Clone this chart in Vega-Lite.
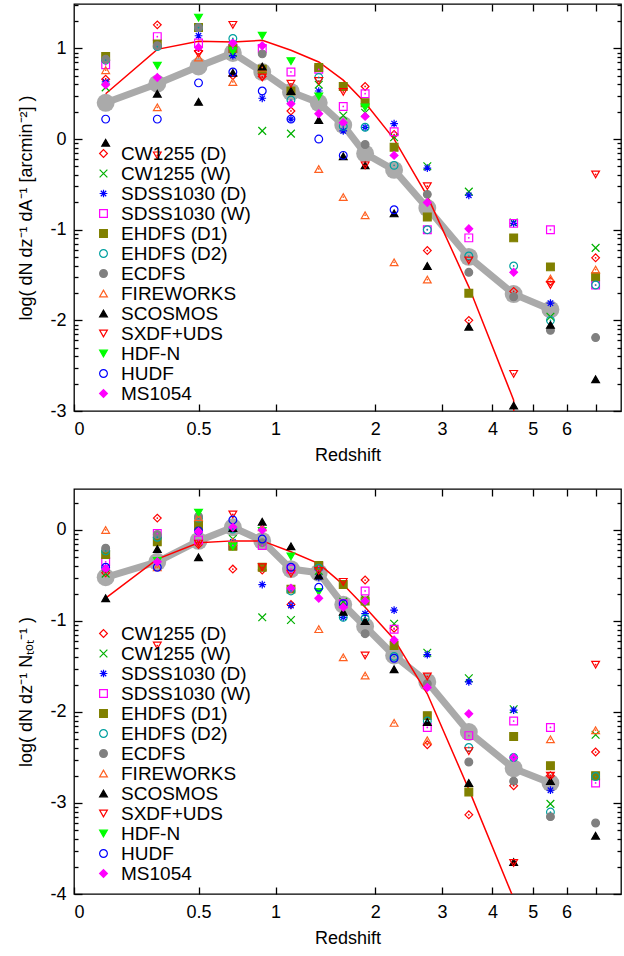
{
"$schema": "https://vega.github.io/schema/vega-lite/v6.json",
"padding": {"left": 17, "top": 2, "right": 1, "bottom": 0},
"config": {"font": "Liberation Sans", "view": {"stroke": "#000000", "strokeWidth": 1.3},
  "axis": {"labelFont": "Liberation Sans", "labelFontSize": 18, "titleFont": "Liberation Sans", "titleFontSize": 18, "titleFontWeight": "normal", "labelColor": "#000000", "titleColor": "#000000", "tickColor": "#000000", "domain": false, "grid": false, "tickWidth": 1.3},
  "legend": {"orient": "none", "title": null, "labelFontSize": 19, "labelFont": "Liberation Sans", "symbolStrokeWidth": 1.2, "symbolSize": 60, "rowPadding": -0.3, "padding": 0, "labelOffset": 8}},
"datasets": {
"at": [{"z":0.1,"v":0.40},{"z":0.3,"v":0.61},{"z":0.5,"v":0.80},{"z":0.7,"v":0.95},{"z":0.9,"v":0.74},{"z":1.125,"v":0.52},{"z":1.375,"v":0.40},{"z":1.625,"v":0.155},{"z":1.875,"v":-0.16},{"z":2.25,"v":-0.34},{"z":2.75,"v":-0.76},{"z":3.5,"v":-1.30},{"z":4.5,"v":-1.71},{"z":5.5,"v":-1.88}],
"mt": [{"z":0.1,"v":0.50},{"z":0.3,"v":0.99},{"z":0.5,"v":1.08},{"z":0.7,"v":1.07},{"z":0.9,"v":1.09},{"z":1.125,"v":0.98},{"z":1.375,"v":0.85},{"z":1.625,"v":0.65},{"z":1.875,"v":0.40},{"z":2.25,"v":0.0},{"z":2.75,"v":-0.63},{"z":3.5,"v":-1.63},{"z":4.5,"v":-2.88},{"z":5.5,"v":-40}],
"ab": [{"z":0.1,"v":-0.52},{"z":0.3,"v":-0.35},{"z":0.5,"v":-0.12},{"z":0.7,"v":0.03},{"z":0.9,"v":-0.12},{"z":1.125,"v":-0.43},{"z":1.375,"v":-0.47},{"z":1.625,"v":-0.82},{"z":1.875,"v":-1.06},{"z":2.25,"v":-1.38},{"z":2.75,"v":-1.67},{"z":3.5,"v":-2.22},{"z":4.5,"v":-2.62},{"z":5.5,"v":-2.78}],
"mb": [{"z":0.1,"v":-0.75},{"z":0.3,"v":-0.32},{"z":0.5,"v":-0.14},{"z":0.7,"v":-0.12},{"z":0.9,"v":-0.12},{"z":1.125,"v":-0.24},{"z":1.375,"v":-0.37},{"z":1.625,"v":-0.6},{"z":1.875,"v":-0.85},{"z":2.25,"v":-1.2},{"z":2.75,"v":-1.8},{"z":3.5,"v":-2.85},{"z":4.5,"v":-4.05},{"z":5.5,"v":-40}],
"pt": [
{"s":"CW1255 (D)","z":0.1,"v":0.66},{"s":"CW1255 (D)","z":0.3,"v":1.26},{"s":"CW1255 (D)","z":0.5,"v":0.97},{"s":"CW1255 (D)","z":0.7,"v":0.70},{"s":"CW1255 (D)","z":0.9,"v":0.69},{"s":"CW1255 (D)","z":1.125,"v":0.31},{"s":"CW1255 (D)","z":1.875,"v":0.58},{"s":"CW1255 (D)","z":2.25,"v":0.05},{"s":"CW1255 (D)","z":2.75,"v":-1.23},{"s":"CW1255 (D)","z":3.5,"v":-2.0},{"s":"CW1255 (D)","z":4.5,"v":-1.68},{"s":"CW1255 (D)","z":5.5,"v":-1.57},{"s":"CW1255 (D)","z":7,"v":-1.31},
{"s":"CW1255 (W)","z":0.1,"v":0.57},{"s":"CW1255 (W)","z":0.7,"v":0.95},{"s":"CW1255 (W)","z":0.9,"v":0.09},{"s":"CW1255 (W)","z":1.125,"v":0.06},{"s":"CW1255 (W)","z":1.375,"v":0.60},{"s":"CW1255 (W)","z":1.625,"v":0.26},{"s":"CW1255 (W)","z":1.875,"v":0.29},{"s":"CW1255 (W)","z":2.25,"v":0.02},{"s":"CW1255 (W)","z":2.75,"v":-0.30},{"s":"CW1255 (W)","z":3.5,"v":-0.58},{"s":"CW1255 (W)","z":4.5,"v":-0.92},{"s":"CW1255 (W)","z":5.5,"v":-1.96},{"s":"CW1255 (W)","z":7,"v":-1.20},
{"s":"SDSS1030 (D)","z":0.1,"v":0.63},{"s":"SDSS1030 (D)","z":0.5,"v":1.14},{"s":"SDSS1030 (D)","z":0.7,"v":0.92},{"s":"SDSS1030 (D)","z":0.9,"v":0.45},{"s":"SDSS1030 (D)","z":1.125,"v":0.22},{"s":"SDSS1030 (D)","z":1.375,"v":0.53},{"s":"SDSS1030 (D)","z":1.625,"v":0.09},{"s":"SDSS1030 (D)","z":1.875,"v":0.13},{"s":"SDSS1030 (D)","z":2.25,"v":0.17},{"s":"SDSS1030 (D)","z":2.75,"v":-0.32},{"s":"SDSS1030 (D)","z":3.5,"v":-0.62},{"s":"SDSS1030 (D)","z":4.5,"v":-0.93},{"s":"SDSS1030 (D)","z":5.5,"v":-1.81},
{"s":"SDSS1030 (W)","z":0.1,"v":0.82},{"s":"SDSS1030 (W)","z":0.3,"v":1.13},{"s":"SDSS1030 (W)","z":0.5,"v":1.06},{"s":"SDSS1030 (W)","z":0.7,"v":1.0},{"s":"SDSS1030 (W)","z":0.9,"v":1.0},{"s":"SDSS1030 (W)","z":1.125,"v":0.74},{"s":"SDSS1030 (W)","z":1.375,"v":0.77},{"s":"SDSS1030 (W)","z":1.625,"v":0.36},{"s":"SDSS1030 (W)","z":1.875,"v":0.50},{"s":"SDSS1030 (W)","z":2.25,"v":0.08},{"s":"SDSS1030 (W)","z":2.75,"v":-1.0},{"s":"SDSS1030 (W)","z":3.5,"v":-1.09},{"s":"SDSS1030 (W)","z":4.5,"v":-0.93},{"s":"SDSS1030 (W)","z":5.5,"v":-1.0},{"s":"SDSS1030 (W)","z":7,"v":-1.61},
{"s":"EHDFS (D1)","z":0.1,"v":0.91},{"s":"EHDFS (D1)","z":0.3,"v":1.05},{"s":"EHDFS (D1)","z":0.5,"v":1.23},{"s":"EHDFS (D1)","z":0.7,"v":1.0},{"s":"EHDFS (D1)","z":0.9,"v":0.77},{"s":"EHDFS (D1)","z":1.125,"v":0.53},{"s":"EHDFS (D1)","z":1.375,"v":0.79},{"s":"EHDFS (D1)","z":1.625,"v":0.58},{"s":"EHDFS (D1)","z":1.875,"v":0.40},{"s":"EHDFS (D1)","z":2.25,"v":-0.09},{"s":"EHDFS (D1)","z":2.75,"v":-0.86},{"s":"EHDFS (D1)","z":3.5,"v":-1.70},{"s":"EHDFS (D1)","z":4.5,"v":-1.09},{"s":"EHDFS (D1)","z":5.5,"v":-1.41},{"s":"EHDFS (D1)","z":7,"v":-1.52},
{"s":"EHDFS (D2)","z":0.1,"v":0.87},{"s":"EHDFS (D2)","z":0.3,"v":1.02},{"s":"EHDFS (D2)","z":0.5,"v":1.23},{"s":"EHDFS (D2)","z":0.7,"v":1.11},{"s":"EHDFS (D2)","z":1.125,"v":0.43},{"s":"EHDFS (D2)","z":1.375,"v":0.68},{"s":"EHDFS (D2)","z":1.625,"v":0.14},{"s":"EHDFS (D2)","z":1.875,"v":0.13},{"s":"EHDFS (D2)","z":2.25,"v":-0.29},{"s":"EHDFS (D2)","z":2.75,"v":-1.0},{"s":"EHDFS (D2)","z":3.5,"v":-1.29},{"s":"EHDFS (D2)","z":4.5,"v":-1.40},{"s":"EHDFS (D2)","z":5.5,"v":-2.0},{"s":"EHDFS (D2)","z":7,"v":-1.61},
{"s":"ECDFS","z":0.1,"v":0.88},{"s":"ECDFS","z":0.3,"v":1.03},{"s":"ECDFS","z":0.5,"v":1.23},{"s":"ECDFS","z":0.9,"v":0.94},{"s":"ECDFS","z":1.875,"v":-0.06},{"s":"ECDFS","z":2.75,"v":-0.61},{"s":"ECDFS","z":3.5,"v":-1.47},{"s":"ECDFS","z":4.5,"v":-1.74},{"s":"ECDFS","z":5.5,"v":-2.11},{"s":"ECDFS","z":7,"v":-2.19},
{"s":"FIREWORKS","z":0.1,"v":0.76},{"s":"FIREWORKS","z":0.3,"v":0.35},{"s":"FIREWORKS","z":0.5,"v":0.90},{"s":"FIREWORKS","z":0.7,"v":0.63},{"s":"FIREWORKS","z":0.9,"v":0.79},{"s":"FIREWORKS","z":1.375,"v":-0.33},{"s":"FIREWORKS","z":1.625,"v":-0.64},{"s":"FIREWORKS","z":1.875,"v":-0.84},{"s":"FIREWORKS","z":2.25,"v":-1.36},{"s":"FIREWORKS","z":2.75,"v":-1.55},{"s":"FIREWORKS","z":5.5,"v":-1.54},{"s":"FIREWORKS","z":7,"v":-1.44},
{"s":"SCOSMOS","z":0.1,"v":-0.04},{"s":"SCOSMOS","z":0.3,"v":0.50},{"s":"SCOSMOS","z":0.5,"v":0.41},{"s":"SCOSMOS","z":0.7,"v":0.73},{"s":"SCOSMOS","z":0.9,"v":0.80},{"s":"SCOSMOS","z":1.125,"v":0.53},{"s":"SCOSMOS","z":1.375,"v":0.21},{"s":"SCOSMOS","z":1.625,"v":-0.19},{"s":"SCOSMOS","z":1.875,"v":-0.29},{"s":"SCOSMOS","z":2.25,"v":-0.82},{"s":"SCOSMOS","z":2.75,"v":-1.40},{"s":"SCOSMOS","z":3.5,"v":-2.07},{"s":"SCOSMOS","z":4.5,"v":-2.94},{"s":"SCOSMOS","z":5.5,"v":-2.05},{"s":"SCOSMOS","z":7,"v":-2.65},
{"s":"SXDF+UDS","z":0.3,"v":-0.18},{"s":"SXDF+UDS","z":0.5,"v":0.94},{"s":"SXDF+UDS","z":0.7,"v":1.26},{"s":"SXDF+UDS","z":0.9,"v":0.68},{"s":"SXDF+UDS","z":1.125,"v":0.61},{"s":"SXDF+UDS","z":1.375,"v":0.64},{"s":"SXDF+UDS","z":1.625,"v":0.52},{"s":"SXDF+UDS","z":1.875,"v":-0.29},{"s":"SXDF+UDS","z":2.75,"v":-0.52},{"s":"SXDF+UDS","z":3.5,"v":-1.34},{"s":"SXDF+UDS","z":4.5,"v":-2.59},{"s":"SXDF+UDS","z":5.5,"v":-1.61},{"s":"SXDF+UDS","z":7,"v":-0.39},
{"s":"HDF-N","z":0.3,"v":0.81},{"s":"HDF-N","z":0.5,"v":1.34},{"s":"HDF-N","z":0.7,"v":0.97},{"s":"HDF-N","z":0.9,"v":1.14},{"s":"HDF-N","z":1.125,"v":0.86},{"s":"HDF-N","z":1.375,"v":0.47},{"s":"HDF-N","z":1.875,"v":0.35},
{"s":"HUDF","z":0.1,"v":0.22},{"s":"HUDF","z":0.3,"v":0.22},{"s":"HUDF","z":0.5,"v":0.62},{"s":"HUDF","z":0.7,"v":0.74},{"s":"HUDF","z":0.9,"v":0.53},{"s":"HUDF","z":1.125,"v":0.22},{"s":"HUDF","z":1.375,"v":0.0},{"s":"HUDF","z":1.625,"v":-0.18},{"s":"HUDF","z":2.25,"v":-0.78},
{"s":"MS1054","z":0.1,"v":0.60},{"s":"MS1054","z":0.3,"v":0.68},{"s":"MS1054","z":0.5,"v":1.01},{"s":"MS1054","z":0.7,"v":1.06},{"s":"MS1054","z":0.9,"v":1.03},{"s":"MS1054","z":1.125,"v":0.39},{"s":"MS1054","z":1.375,"v":0.28},{"s":"MS1054","z":1.625,"v":0.18},{"s":"MS1054","z":1.875,"v":0.25},{"s":"MS1054","z":2.25,"v":-0.18},{"s":"MS1054","z":2.75,"v":-0.70},{"s":"MS1054","z":3.5,"v":-0.99},{"s":"MS1054","z":4.5,"v":-1.47}
],
"pb": [
{"s":"CW1255 (D)","z":0.1,"v":-0.47},{"s":"CW1255 (D)","z":0.3,"v":0.13},{"s":"CW1255 (D)","z":0.5,"v":-0.16},{"s":"CW1255 (D)","z":0.7,"v":-0.43},{"s":"CW1255 (D)","z":0.9,"v":-0.44},{"s":"CW1255 (D)","z":1.125,"v":-0.82},{"s":"CW1255 (D)","z":1.875,"v":-0.55},{"s":"CW1255 (D)","z":2.25,"v":-1.08},{"s":"CW1255 (D)","z":2.75,"v":-2.36},{"s":"CW1255 (D)","z":3.5,"v":-3.13},{"s":"CW1255 (D)","z":4.5,"v":-2.81},{"s":"CW1255 (D)","z":5.5,"v":-2.70},{"s":"CW1255 (D)","z":7,"v":-2.44},
{"s":"CW1255 (W)","z":0.1,"v":-0.48},{"s":"CW1255 (W)","z":0.7,"v":-0.10},{"s":"CW1255 (W)","z":0.9,"v":-0.96},{"s":"CW1255 (W)","z":1.125,"v":-0.99},{"s":"CW1255 (W)","z":1.375,"v":-0.45},{"s":"CW1255 (W)","z":1.625,"v":-0.79},{"s":"CW1255 (W)","z":1.875,"v":-0.76},{"s":"CW1255 (W)","z":2.25,"v":-1.03},{"s":"CW1255 (W)","z":2.75,"v":-1.35},{"s":"CW1255 (W)","z":3.5,"v":-1.63},{"s":"CW1255 (W)","z":4.5,"v":-1.97},{"s":"CW1255 (W)","z":5.5,"v":-3.01},{"s":"CW1255 (W)","z":7,"v":-2.25},
{"s":"SDSS1030 (D)","z":0.1,"v":-0.42},{"s":"SDSS1030 (D)","z":0.5,"v":0.09},{"s":"SDSS1030 (D)","z":0.7,"v":-0.13},{"s":"SDSS1030 (D)","z":0.9,"v":-0.60},{"s":"SDSS1030 (D)","z":1.125,"v":-0.83},{"s":"SDSS1030 (D)","z":1.375,"v":-0.52},{"s":"SDSS1030 (D)","z":1.625,"v":-0.96},{"s":"SDSS1030 (D)","z":1.875,"v":-0.92},{"s":"SDSS1030 (D)","z":2.25,"v":-0.88},{"s":"SDSS1030 (D)","z":2.75,"v":-1.37},{"s":"SDSS1030 (D)","z":3.5,"v":-1.67},{"s":"SDSS1030 (D)","z":4.5,"v":-1.98},{"s":"SDSS1030 (D)","z":5.5,"v":-2.86},
{"s":"SDSS1030 (W)","z":0.1,"v":-0.35},{"s":"SDSS1030 (W)","z":0.3,"v":-0.04},{"s":"SDSS1030 (W)","z":0.5,"v":-0.11},{"s":"SDSS1030 (W)","z":0.7,"v":-0.17},{"s":"SDSS1030 (W)","z":0.9,"v":-0.17},{"s":"SDSS1030 (W)","z":1.125,"v":-0.43},{"s":"SDSS1030 (W)","z":1.375,"v":-0.40},{"s":"SDSS1030 (W)","z":1.625,"v":-0.81},{"s":"SDSS1030 (W)","z":1.875,"v":-0.67},{"s":"SDSS1030 (W)","z":2.25,"v":-1.09},{"s":"SDSS1030 (W)","z":2.75,"v":-2.17},{"s":"SDSS1030 (W)","z":3.5,"v":-2.26},{"s":"SDSS1030 (W)","z":4.5,"v":-2.10},{"s":"SDSS1030 (W)","z":5.5,"v":-2.17},{"s":"SDSS1030 (W)","z":7,"v":-2.78},
{"s":"EHDFS (D1)","z":0.1,"v":-0.27},{"s":"EHDFS (D1)","z":0.3,"v":-0.13},{"s":"EHDFS (D1)","z":0.5,"v":0.05},{"s":"EHDFS (D1)","z":0.7,"v":-0.18},{"s":"EHDFS (D1)","z":0.9,"v":-0.41},{"s":"EHDFS (D1)","z":1.125,"v":-0.65},{"s":"EHDFS (D1)","z":1.375,"v":-0.39},{"s":"EHDFS (D1)","z":1.625,"v":-0.60},{"s":"EHDFS (D1)","z":1.875,"v":-0.78},{"s":"EHDFS (D1)","z":2.25,"v":-1.27},{"s":"EHDFS (D1)","z":2.75,"v":-2.04},{"s":"EHDFS (D1)","z":3.5,"v":-2.88},{"s":"EHDFS (D1)","z":4.5,"v":-2.27},{"s":"EHDFS (D1)","z":5.5,"v":-2.59},{"s":"EHDFS (D1)","z":7,"v":-2.70},
{"s":"EHDFS (D2)","z":0.1,"v":-0.23},{"s":"EHDFS (D2)","z":0.3,"v":-0.08},{"s":"EHDFS (D2)","z":0.5,"v":0.13},{"s":"EHDFS (D2)","z":0.7,"v":0.01},{"s":"EHDFS (D2)","z":1.125,"v":-0.67},{"s":"EHDFS (D2)","z":1.375,"v":-0.42},{"s":"EHDFS (D2)","z":1.625,"v":-0.96},{"s":"EHDFS (D2)","z":1.875,"v":-0.97},{"s":"EHDFS (D2)","z":2.25,"v":-1.39},{"s":"EHDFS (D2)","z":2.75,"v":-2.10},{"s":"EHDFS (D2)","z":3.5,"v":-2.39},{"s":"EHDFS (D2)","z":4.5,"v":-2.50},{"s":"EHDFS (D2)","z":5.5,"v":-3.10},{"s":"EHDFS (D2)","z":7,"v":-2.71},
{"s":"ECDFS","z":0.1,"v":-0.20},{"s":"ECDFS","z":0.3,"v":-0.05},{"s":"ECDFS","z":0.5,"v":0.15},{"s":"ECDFS","z":0.9,"v":-0.14},{"s":"ECDFS","z":1.875,"v":-1.14},{"s":"ECDFS","z":2.75,"v":-1.69},{"s":"ECDFS","z":3.5,"v":-2.55},{"s":"ECDFS","z":4.5,"v":-2.76},{"s":"ECDFS","z":5.5,"v":-3.15},{"s":"ECDFS","z":7,"v":-3.22},
{"s":"FIREWORKS","z":0.1,"v":0.0},{"s":"FIREWORKS","z":0.3,"v":-0.41},{"s":"FIREWORKS","z":0.5,"v":0.14},{"s":"FIREWORKS","z":0.7,"v":-0.13},{"s":"FIREWORKS","z":0.9,"v":0.03},{"s":"FIREWORKS","z":1.375,"v":-1.09},{"s":"FIREWORKS","z":1.625,"v":-1.40},{"s":"FIREWORKS","z":1.875,"v":-1.60},{"s":"FIREWORKS","z":2.25,"v":-2.12},{"s":"FIREWORKS","z":2.75,"v":-2.31},{"s":"FIREWORKS","z":5.5,"v":-2.30},{"s":"FIREWORKS","z":7,"v":-2.20},
{"s":"SCOSMOS","z":0.1,"v":-0.75},{"s":"SCOSMOS","z":0.3,"v":-0.21},{"s":"SCOSMOS","z":0.5,"v":-0.30},{"s":"SCOSMOS","z":0.7,"v":0.02},{"s":"SCOSMOS","z":0.9,"v":0.09},{"s":"SCOSMOS","z":1.125,"v":-0.18},{"s":"SCOSMOS","z":1.375,"v":-0.50},{"s":"SCOSMOS","z":1.625,"v":-0.90},{"s":"SCOSMOS","z":1.875,"v":-1.00},{"s":"SCOSMOS","z":2.25,"v":-1.53},{"s":"SCOSMOS","z":2.75,"v":-2.11},{"s":"SCOSMOS","z":3.5,"v":-2.78},{"s":"SCOSMOS","z":4.5,"v":-3.65},{"s":"SCOSMOS","z":5.5,"v":-2.76},{"s":"SCOSMOS","z":7,"v":-3.36},
{"s":"SXDF+UDS","z":0.3,"v":-1.27},{"s":"SXDF+UDS","z":0.5,"v":-0.15},{"s":"SXDF+UDS","z":0.7,"v":0.17},{"s":"SXDF+UDS","z":0.9,"v":-0.41},{"s":"SXDF+UDS","z":1.125,"v":-0.48},{"s":"SXDF+UDS","z":1.375,"v":-0.45},{"s":"SXDF+UDS","z":1.625,"v":-0.57},{"s":"SXDF+UDS","z":1.875,"v":-1.38},{"s":"SXDF+UDS","z":2.75,"v":-1.61},{"s":"SXDF+UDS","z":3.5,"v":-2.43},{"s":"SXDF+UDS","z":4.5,"v":-3.66},{"s":"SXDF+UDS","z":5.5,"v":-2.70},{"s":"SXDF+UDS","z":7,"v":-1.48},
{"s":"HDF-N","z":0.3,"v":-0.34},{"s":"HDF-N","z":0.5,"v":0.19},{"s":"HDF-N","z":0.7,"v":-0.18},{"s":"HDF-N","z":0.9,"v":-0.01},{"s":"HDF-N","z":1.125,"v":-0.29},{"s":"HDF-N","z":1.375,"v":-0.68},{"s":"HDF-N","z":1.875,"v":-0.80},
{"s":"HUDF","z":0.1,"v":-0.41},{"s":"HUDF","z":0.3,"v":-0.41},{"s":"HUDF","z":0.5,"v":-0.01},{"s":"HUDF","z":0.7,"v":0.11},{"s":"HUDF","z":0.9,"v":-0.10},{"s":"HUDF","z":1.125,"v":-0.41},{"s":"HUDF","z":1.375,"v":-0.63},{"s":"HUDF","z":1.625,"v":-0.81},{"s":"HUDF","z":2.25,"v":-1.41},
{"s":"MS1054","z":0.1,"v":-0.43},{"s":"MS1054","z":0.3,"v":-0.35},{"s":"MS1054","z":0.5,"v":-0.02},{"s":"MS1054","z":0.7,"v":0.03},{"s":"MS1054","z":0.9,"v":0.0},{"s":"MS1054","z":1.125,"v":-0.64},{"s":"MS1054","z":1.375,"v":-0.75},{"s":"MS1054","z":1.625,"v":-0.85},{"s":"MS1054","z":1.875,"v":-0.78},{"s":"MS1054","z":2.25,"v":-1.21},{"s":"MS1054","z":2.75,"v":-1.73},{"s":"MS1054","z":3.5,"v":-2.02},{"s":"MS1054","z":4.5,"v":-2.50}
]
},
"resolve": {"scale": {"x": "independent", "y": "independent", "shape": "independent", "fill": "independent", "stroke": "independent", "color": "independent"}, "legend": {"shape": "independent", "fill": "independent", "stroke": "independent"}},
"spacing": 78,
"bounds": "flush",
"vconcat": [
{
 "width": 547, "height": 407,
 "resolve": {"axis": {"x": "independent", "y": "independent"}},
 "layer": [
  {"data": {"name": "at"}, "mark": {"type": "line", "color": "#aaaaaa", "strokeWidth": 7},
   "encoding": {
    "x": {"field": "z", "type": "quantitative", "scale": {"type": "symlog", "constant": 0.6, "domain": [0, 8], "nice": false}, "axis": {"orient": "bottom", "title": "Redshift", "values": [0,0.5,1,2,3,4,5,6,7], "tickSize": -7, "labelPadding": 16, "titlePadding": 8, "labelExpr": "datum.value == 7 ? '' : '' + datum.value"}},
    "y": {"field": "v", "type": "quantitative", "scale": {"domain": [-3, 1.49], "nice": false, "zero": false}, "axis": {"orient": "left", "title": "log( dN dz⁻¹ dA⁻¹ [arcmin⁻²] )", "titlePadding": 14, "labelPadding": 16,
      "values": [-3,-2.69897,-2.52288,-2.39794,-2.30103,-2.22185,-2.1549,-2.09691,-2.04576,-2,-1.69897,-1.52288,-1.39794,-1.30103,-1.22185,-1.1549,-1.09691,-1.04576,-1,-0.69897,-0.52288,-0.39794,-0.30103,-0.22185,-0.1549,-0.09691,-0.04576,0,0.30103,0.47712,0.60206,0.69897,0.77815,0.8451,0.90309,0.95424,1,1.30103,1.47712],
      "labelExpr": "abs(datum.value - round(datum.value)) < 0.001 ? '' + round(datum.value) : ''",
      "tickSize": {"condition": {"test": "abs(datum.value - round(datum.value)) < 0.001", "value": -8}, "value": -4}}}
   }},
  {"data": {"name": "at"}, "mark": {"type": "circle", "color": "#aaaaaa", "size": 320, "opacity": 1},
   "encoding": {"x": {"field": "z", "type": "quantitative", "scale": {"type": "symlog", "constant": 0.6, "domain": [0, 8], "nice": false}, "axis": null}, "y": {"field": "v", "type": "quantitative", "scale": {"domain": [-3, 1.49], "nice": false, "zero": false}, "axis": null}}},
  {"data": {"name": "mt"}, "mark": {"type": "line", "color": "#ff0000", "strokeWidth": 1.5, "clip": true},
   "encoding": {
    "x": {"field": "z", "type": "quantitative", "scale": {"type": "symlog", "constant": 0.6, "domain": [0, 8], "nice": false}, "axis": {"orient": "top", "title": null, "labels": false, "values": [0.5,1,2,3,4,5,6,7], "tickSize": -7}},
    "y": {"field": "v", "type": "quantitative", "scale": {"domain": [-3, 1.49], "nice": false, "zero": false}, "axis": {"orient": "right", "title": null, "labels": false,
      "values": [-3,-2.69897,-2.52288,-2.39794,-2.30103,-2.22185,-2.1549,-2.09691,-2.04576,-2,-1.69897,-1.52288,-1.39794,-1.30103,-1.22185,-1.1549,-1.09691,-1.04576,-1,-0.69897,-0.52288,-0.39794,-0.30103,-0.22185,-0.1549,-0.09691,-0.04576,0,0.30103,0.47712,0.60206,0.69897,0.77815,0.8451,0.90309,0.95424,1,1.30103,1.47712],
      "tickSize": {"condition": {"test": "abs(datum.value - round(datum.value)) < 0.001", "value": -8}, "value": -4}}}
   }},
  {"data": {"name": "pt"}, "mark": {"type": "point", "strokeWidth": 1.2, "size": 60, "opacity": 1},
   "encoding": {
    "x": {"field": "z", "type": "quantitative", "scale": {"type": "symlog", "constant": 0.6, "domain": [0, 8], "nice": false}, "axis": null},
    "y": {"field": "v", "type": "quantitative", "scale": {"domain": [-3, 1.49], "nice": false, "zero": false}, "axis": null},
    "shape": {"field": "s", "type": "nominal", "scale": {"domain": ["CW1255 (D)","CW1255 (W)","SDSS1030 (D)","SDSS1030 (W)","EHDFS (D1)","EHDFS (D2)","ECDFS","FIREWORKS","SCOSMOS","SXDF+UDS","HDF-N","HUDF","MS1054"], "range": ["diamond","M-1,-1L1,1M-1,1L1,-1","M-1,0L1,0M0,-1L0,1M-0.7,-0.7L0.7,0.7M-0.7,0.7L0.7,-0.7","square","square","circle","circle","triangle-up","triangle-up","triangle-down","triangle-down","circle","diamond"]},
      "legend": {"legendX": 20, "legendY": 140}},
    "stroke": {"field": "s", "type": "nominal", "scale": {"domain": ["CW1255 (D)","CW1255 (W)","SDSS1030 (D)","SDSS1030 (W)","EHDFS (D1)","EHDFS (D2)","ECDFS","FIREWORKS","SCOSMOS","SXDF+UDS","HDF-N","HUDF","MS1054"], "range": ["#ff0000","#00b000","#0000ff","#ff00ff","#808000","#00a0a0","#808080","#ff6020","#000000","#ff0000","#00ff00","#0000ff","#ff00ff"]},
      "legend": {"legendX": 20, "legendY": 140}},
    "fill": {"field": "s", "type": "nominal", "scale": {"domain": ["CW1255 (D)","CW1255 (W)","SDSS1030 (D)","SDSS1030 (W)","EHDFS (D1)","EHDFS (D2)","ECDFS","FIREWORKS","SCOSMOS","SXDF+UDS","HDF-N","HUDF","MS1054"], "range": ["transparent","transparent","transparent","transparent","#808000","transparent","#808080","transparent","#000000","transparent","#00ff00","transparent","#ff00ff"]},
      "legend": {"legendX": 20, "legendY": 140}}
   }},
  {"data": {"name": "pt"}, "transform": [{"filter": {"field": "s", "oneOf": ["CW1255 (D)","SDSS1030 (W)","EHDFS (D2)","FIREWORKS","SXDF+UDS"]}}],
   "mark": {"type": "circle", "size": 3, "opacity": 1},
   "encoding": {
    "x": {"field": "z", "type": "quantitative", "scale": {"type": "symlog", "constant": 0.6, "domain": [0, 8], "nice": false}, "axis": null},
    "y": {"field": "v", "type": "quantitative", "scale": {"domain": [-3, 1.49], "nice": false, "zero": false}, "axis": null},
    "color": {"field": "s", "type": "nominal", "legend": null, "scale": {"domain": ["CW1255 (D)","SDSS1030 (W)","EHDFS (D2)","FIREWORKS","SXDF+UDS"], "range": ["#ff0000","#ff00ff","#00a0a0","#ff6020","#ff0000"]}}
   }}
 ]
},
{
 "width": 547, "height": 405,
 "resolve": {"axis": {"x": "independent", "y": "independent"}},
 "layer": [
  {"data": {"name": "ab"}, "mark": {"type": "line", "color": "#aaaaaa", "strokeWidth": 7},
   "encoding": {
    "x": {"field": "z", "type": "quantitative", "scale": {"type": "symlog", "constant": 0.6, "domain": [0, 8], "nice": false}, "axis": {"orient": "bottom", "title": "Redshift", "values": [0,0.5,1,2,3,4,5,6,7], "tickSize": -7, "labelPadding": 16, "titlePadding": 8, "labelExpr": "datum.value == 7 ? '' : '' + datum.value"}},
    "y": {"field": "v", "type": "quantitative", "scale": {"domain": [-4, 0.45], "nice": false, "zero": false}, "axis": {"orient": "left", "title": "log( dN dz⁻¹ Nₜₒₜ⁻¹ )", "titlePadding": 14, "labelPadding": 16,
      "values": [-4,-3.69897,-3.52288,-3.39794,-3.30103,-3.22185,-3.1549,-3.09691,-3.04576,-3,-2.69897,-2.52288,-2.39794,-2.30103,-2.22185,-2.1549,-2.09691,-2.04576,-2,-1.69897,-1.52288,-1.39794,-1.30103,-1.22185,-1.1549,-1.09691,-1.04576,-1,-0.69897,-0.52288,-0.39794,-0.30103,-0.22185,-0.1549,-0.09691,-0.04576,0,0.30103],
      "labelExpr": "abs(datum.value - round(datum.value)) < 0.001 ? '' + round(datum.value) : ''",
      "tickSize": {"condition": {"test": "abs(datum.value - round(datum.value)) < 0.001", "value": -8}, "value": -4}}}
   }},
  {"data": {"name": "ab"}, "mark": {"type": "circle", "color": "#aaaaaa", "size": 320, "opacity": 1},
   "encoding": {"x": {"field": "z", "type": "quantitative", "scale": {"type": "symlog", "constant": 0.6, "domain": [0, 8], "nice": false}, "axis": null}, "y": {"field": "v", "type": "quantitative", "scale": {"domain": [-4, 0.45], "nice": false, "zero": false}, "axis": null}}},
  {"data": {"name": "mb"}, "mark": {"type": "line", "color": "#ff0000", "strokeWidth": 1.5, "clip": true},
   "encoding": {
    "x": {"field": "z", "type": "quantitative", "scale": {"type": "symlog", "constant": 0.6, "domain": [0, 8], "nice": false}, "axis": {"orient": "top", "title": null, "labels": false, "values": [0.5,1,2,3,4,5,6,7], "tickSize": -7}},
    "y": {"field": "v", "type": "quantitative", "scale": {"domain": [-4, 0.45], "nice": false, "zero": false}, "axis": {"orient": "right", "title": null, "labels": false,
      "values": [-4,-3.69897,-3.52288,-3.39794,-3.30103,-3.22185,-3.1549,-3.09691,-3.04576,-3,-2.69897,-2.52288,-2.39794,-2.30103,-2.22185,-2.1549,-2.09691,-2.04576,-2,-1.69897,-1.52288,-1.39794,-1.30103,-1.22185,-1.1549,-1.09691,-1.04576,-1,-0.69897,-0.52288,-0.39794,-0.30103,-0.22185,-0.1549,-0.09691,-0.04576,0,0.30103],
      "tickSize": {"condition": {"test": "abs(datum.value - round(datum.value)) < 0.001", "value": -8}, "value": -4}}}
   }},
  {"data": {"name": "pb"}, "mark": {"type": "point", "strokeWidth": 1.2, "size": 60, "opacity": 1},
   "encoding": {
    "x": {"field": "z", "type": "quantitative", "scale": {"type": "symlog", "constant": 0.6, "domain": [0, 8], "nice": false}, "axis": null},
    "y": {"field": "v", "type": "quantitative", "scale": {"domain": [-4, 0.45], "nice": false, "zero": false}, "axis": null},
    "shape": {"field": "s", "type": "nominal", "scale": {"domain": ["CW1255 (D)","CW1255 (W)","SDSS1030 (D)","SDSS1030 (W)","EHDFS (D1)","EHDFS (D2)","ECDFS","FIREWORKS","SCOSMOS","SXDF+UDS","HDF-N","HUDF","MS1054"], "range": ["diamond","M-1,-1L1,1M-1,1L1,-1","M-1,0L1,0M0,-1L0,1M-0.7,-0.7L0.7,0.7M-0.7,0.7L0.7,-0.7","square","square","circle","circle","triangle-up","triangle-up","triangle-down","triangle-down","circle","diamond"]},
      "legend": {"legendX": 20, "legendY": 135}},
    "stroke": {"field": "s", "type": "nominal", "scale": {"domain": ["CW1255 (D)","CW1255 (W)","SDSS1030 (D)","SDSS1030 (W)","EHDFS (D1)","EHDFS (D2)","ECDFS","FIREWORKS","SCOSMOS","SXDF+UDS","HDF-N","HUDF","MS1054"], "range": ["#ff0000","#00b000","#0000ff","#ff00ff","#808000","#00a0a0","#808080","#ff6020","#000000","#ff0000","#00ff00","#0000ff","#ff00ff"]},
      "legend": {"legendX": 20, "legendY": 135}},
    "fill": {"field": "s", "type": "nominal", "scale": {"domain": ["CW1255 (D)","CW1255 (W)","SDSS1030 (D)","SDSS1030 (W)","EHDFS (D1)","EHDFS (D2)","ECDFS","FIREWORKS","SCOSMOS","SXDF+UDS","HDF-N","HUDF","MS1054"], "range": ["transparent","transparent","transparent","transparent","#808000","transparent","#808080","transparent","#000000","transparent","#00ff00","transparent","#ff00ff"]},
      "legend": {"legendX": 20, "legendY": 135}}
   }},
  {"data": {"name": "pb"}, "transform": [{"filter": {"field": "s", "oneOf": ["CW1255 (D)","SDSS1030 (W)","EHDFS (D2)","FIREWORKS","SXDF+UDS"]}}],
   "mark": {"type": "circle", "size": 3, "opacity": 1},
   "encoding": {
    "x": {"field": "z", "type": "quantitative", "scale": {"type": "symlog", "constant": 0.6, "domain": [0, 8], "nice": false}, "axis": null},
    "y": {"field": "v", "type": "quantitative", "scale": {"domain": [-4, 0.45], "nice": false, "zero": false}, "axis": null},
    "color": {"field": "s", "type": "nominal", "legend": null, "scale": {"domain": ["CW1255 (D)","SDSS1030 (W)","EHDFS (D2)","FIREWORKS","SXDF+UDS"], "range": ["#ff0000","#ff00ff","#00a0a0","#ff6020","#ff0000"]}}
   }}
 ]
}
]
}
